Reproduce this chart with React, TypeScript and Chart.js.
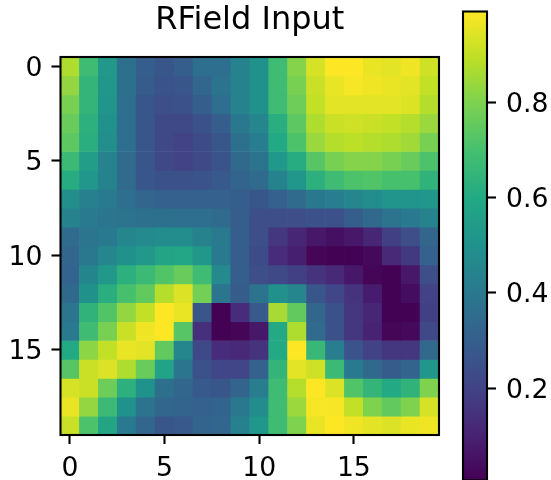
import React, { useEffect, useRef } from "react";
import { Chart, registerables } from "chart.js";

Chart.register(...registerables);

const title = "RField Input";
const fontFamily = "'DejaVu Sans'";
const heatTicks = [0, 5, 10, 15];
const xHeatTicks = [0, 5, 10, 15];
const colorbarTicks = [0.2, 0.4, 0.6, 0.8];
const colorMin = 0.007;
const colorMax = 0.99;

const rows: number[][] = [
  [0.87, 0.68, 0.53, 0.37, 0.30, 0.27, 0.30, 0.36, 0.36, 0.44, 0.50, 0.68, 0.81, 0.93, 0.99, 0.99, 0.96, 0.95, 0.97, 0.92],
  [0.83, 0.65, 0.52, 0.37, 0.29, 0.26, 0.27, 0.33, 0.38, 0.44, 0.50, 0.68, 0.79, 0.91, 0.96, 0.98, 0.97, 0.96, 0.95, 0.90],
  [0.79, 0.65, 0.51, 0.36, 0.27, 0.24, 0.25, 0.30, 0.36, 0.44, 0.50, 0.68, 0.77, 0.90, 0.95, 0.95, 0.95, 0.95, 0.94, 0.88],
  [0.76, 0.63, 0.50, 0.36, 0.27, 0.22, 0.22, 0.25, 0.30, 0.40, 0.46, 0.62, 0.74, 0.87, 0.91, 0.92, 0.91, 0.90, 0.88, 0.84],
  [0.74, 0.62, 0.49, 0.36, 0.27, 0.22, 0.20, 0.23, 0.27, 0.37, 0.42, 0.60, 0.71, 0.84, 0.88, 0.89, 0.88, 0.87, 0.85, 0.79],
  [0.67, 0.55, 0.44, 0.35, 0.27, 0.22, 0.20, 0.22, 0.26, 0.34, 0.38, 0.53, 0.61, 0.73, 0.79, 0.81, 0.81, 0.79, 0.76, 0.71],
  [0.61, 0.52, 0.44, 0.35, 0.27, 0.25, 0.25, 0.26, 0.28, 0.32, 0.35, 0.44, 0.52, 0.63, 0.68, 0.71, 0.72, 0.70, 0.70, 0.64],
  [0.49, 0.43, 0.41, 0.36, 0.33, 0.31, 0.31, 0.31, 0.31, 0.30, 0.27, 0.31, 0.35, 0.40, 0.42, 0.46, 0.48, 0.51, 0.51, 0.52],
  [0.44, 0.41, 0.39, 0.38, 0.37, 0.37, 0.36, 0.36, 0.35, 0.30, 0.24, 0.24, 0.24, 0.25, 0.25, 0.30, 0.34, 0.38, 0.41, 0.44],
  [0.35, 0.39, 0.41, 0.46, 0.47, 0.48, 0.48, 0.44, 0.41, 0.30, 0.24, 0.16, 0.11, 0.07, 0.05, 0.07, 0.11, 0.19, 0.24, 0.33],
  [0.33, 0.40, 0.46, 0.50, 0.53, 0.58, 0.59, 0.52, 0.41, 0.30, 0.23, 0.13, 0.09, 0.02, 0.01, 0.01, 0.03, 0.12, 0.17, 0.31],
  [0.32, 0.45, 0.53, 0.63, 0.67, 0.72, 0.76, 0.68, 0.47, 0.30, 0.24, 0.22, 0.19, 0.15, 0.12, 0.07, 0.02, 0.01, 0.07, 0.24],
  [0.34, 0.50, 0.62, 0.70, 0.75, 0.88, 0.94, 0.78, 0.39, 0.29, 0.38, 0.50, 0.46, 0.27, 0.21, 0.15, 0.08, 0.01, 0.04, 0.20],
  [0.39, 0.64, 0.72, 0.83, 0.90, 0.99, 0.96, 0.27, 0.01, 0.13, 0.28, 0.86, 0.75, 0.33, 0.25, 0.16, 0.11, 0.01, 0.01, 0.19],
  [0.41, 0.68, 0.79, 0.91, 0.97, 0.99, 0.73, 0.14, 0.01, 0.02, 0.07, 0.60, 0.87, 0.35, 0.25, 0.16, 0.10, 0.02, 0.03, 0.22],
  [0.60, 0.82, 0.90, 0.96, 0.95, 0.75, 0.46, 0.22, 0.13, 0.12, 0.15, 0.60, 0.99, 0.66, 0.42, 0.26, 0.20, 0.16, 0.16, 0.34],
  [0.73, 0.91, 0.94, 0.87, 0.76, 0.57, 0.39, 0.25, 0.21, 0.21, 0.31, 0.65, 0.95, 0.92, 0.67, 0.41, 0.34, 0.29, 0.32, 0.52],
  [0.93, 0.91, 0.77, 0.63, 0.50, 0.37, 0.33, 0.28, 0.27, 0.32, 0.42, 0.68, 0.88, 0.99, 0.94, 0.72, 0.65, 0.60, 0.64, 0.80],
  [0.96, 0.83, 0.67, 0.50, 0.38, 0.33, 0.32, 0.31, 0.32, 0.40, 0.48, 0.68, 0.84, 0.98, 0.98, 0.90, 0.80, 0.75, 0.80, 0.93],
  [0.91, 0.71, 0.58, 0.41, 0.33, 0.27, 0.28, 0.32, 0.33, 0.43, 0.52, 0.68, 0.80, 0.96, 0.99, 0.97, 0.95, 0.94, 0.96, 0.97],
];

const viridis = ["#440154", "#482475", "#414487", "#355f8d", "#2a788e", "#21918c", "#22a884", "#44bf70", "#7ad151", "#bddf26", "#fde725"];

function hexToRgb(h: string) {
  return [1, 3, 5].map((i) => parseInt(h.slice(i, i + 2), 16));
}

function colorOf(v: number) {
  const t = Math.min(1, Math.max(0, (v - colorMin) / (colorMax - colorMin))) * (viridis.length - 1);
  const i = Math.min(viridis.length - 2, Math.floor(t));
  const a = hexToRgb(viridis[i]);
  const b = hexToRgb(viridis[i + 1]);
  const f = t - i;
  return `rgb(${a.map((c, k) => Math.round(c + (b[k] - c) * f)).join(",")})`;
}

const framePlugin = {
  id: "frame",
  afterDatasetsDraw(chart: any) {
    const { ctx, chartArea: a } = chart;
    ctx.save();
    ctx.strokeStyle = "#000";
    ctx.lineWidth = 2.1;
    ctx.strokeRect(a.left, a.top, a.right - a.left, a.bottom - a.top);
    ctx.restore();
  },
};

const tickGrid = { offset: false, drawOnChartArea: false, drawTicks: true, tickLength: 9, tickWidth: 2.1, tickColor: "#000" };

// Matplotlib centres tick text on the digit height; the canvas centres it on the em box.
function fitAxis(s: any, size: { width?: number; height?: number }, labelShiftY = 0) {
  if (size.width !== undefined) s.width = size.width;
  if (size.height !== undefined) s.height = size.height;
  s.paddingTop = 0;
  s.paddingBottom = 0;
  s.paddingLeft = 0;
  s.paddingRight = 0;
  if (labelShiftY && !s.__shifted) {
    s.__shifted = true;
    const draw = s.drawLabels;
    s.drawLabels = function (area: any) {
      s.ctx.save();
      s.ctx.translate(0, labelShiftY);
      draw.call(s, area);
      s.ctx.restore();
    };
  }
}

export default function App() {
  const mainRef = useRef<HTMLCanvasElement>(null);
  const barRef = useRef<HTMLCanvasElement>(null);

  useEffect(() => {
    const main = new Chart(mainRef.current!, {
      type: "bar",
      plugins: [framePlugin],
      data: {
        datasets: rows.map((row, r) => ({
          data: row.map((_, c) => ({ x: c, y: [r - 0.5, r + 0.5] })),
          backgroundColor: row.map(colorOf),
          borderWidth: 0,
          barPercentage: 1,
          categoryPercentage: 1,
          grouped: false,
        })) as any,
      },
      options: {
        responsive: false,
        animation: false,
        layout: { padding: { right: 112 } },
        plugins: {
          legend: { display: false },
          tooltip: { enabled: false },
          title: {
            display: true,
            text: title,
            fullSize: false,
            color: "#000",
            font: { family: fontFamily, size: 32, weight: "normal" },
            padding: { top: 1, bottom: 17.6 },
          },
        },
        scales: {
          x: {
            type: "linear",
            min: -0.5,
            max: 19.5,
            offset: false,
            afterBuildTicks: (s: any) => { s.ticks = xHeatTicks.map((value) => ({ value })); },
            afterFit: (s: any) => fitAxis(s, { height: 45 }),
            grid: tickGrid,
            border: { display: false },
            ticks: { color: "#000", font: { family: fontFamily, size: 26.67 }, padding: 9, maxRotation: 0, autoSkip: false },
          },
          y: {
            type: "linear",
            reverse: true,
            min: -0.5,
            max: 19.5,
            afterBuildTicks: (s: any) => { s.ticks = heatTicks.map((value) => ({ value })); },
            afterFit: (s: any) => fitAxis(s, { width: 60.5 }, 2.5),
            grid: tickGrid,
            border: { display: false },
            ticks: { color: "#000", font: { family: fontFamily, size: 26.67 }, padding: 9, autoSkip: false },
          },
        },
      } as any,
    });

    const colorbar = new Chart(barRef.current!, {
      type: "bar",
      plugins: [framePlugin],
      data: {
        labels: ["value"],
        datasets: [
          {
            data: [[colorMin, colorMax]],
            borderWidth: 0,
            barPercentage: 1,
            categoryPercentage: 1,
            backgroundColor: (c: any) => {
              const a = c.chart.chartArea;
              if (!a) return "#000";
              const g = c.chart.ctx.createLinearGradient(0, a.bottom, 0, a.top);
              viridis.forEach((col, i) => g.addColorStop(i / (viridis.length - 1), col));
              return g;
            },
          },
        ] as any,
      },
      options: {
        responsive: false,
        animation: false,
        layout: { padding: { left: 463, top: 11.5, bottom: 1.6 } },
        plugins: { legend: { display: false }, tooltip: { enabled: false }, title: { display: false } },
        scales: {
          x: { type: "category", display: false },
          y: {
            type: "linear",
            position: "right",
            min: colorMin,
            max: colorMax,
            afterBuildTicks: (s: any) => { s.ticks = colorbarTicks.map((value) => ({ value })); },
            afterFit: (s: any) => fitAxis(s, { width: 64 }, 2.5),
            grid: tickGrid,
            border: { display: false },
            ticks: { color: "#000", font: { family: fontFamily, size: 26.67 }, padding: 10, autoSkip: false, callback: (v: any) => Number(v).toFixed(1) },
          },
        },
      } as any,
    });

    return () => {
      main.destroy();
      colorbar.destroy();
    };
  }, []);

  return (
    <div style={{ position: "fixed", left: 0, top: 0, width: 551, height: 480, overflow: "hidden", background: "#fff" }}>
      <canvas ref={mainRef} width={551} height={480} style={{ position: "absolute", left: 0, top: 0 }} />
      <canvas ref={barRef} width={551} height={482} style={{ position: "absolute", left: 0, top: 0 }} />
    </div>
  );
}
